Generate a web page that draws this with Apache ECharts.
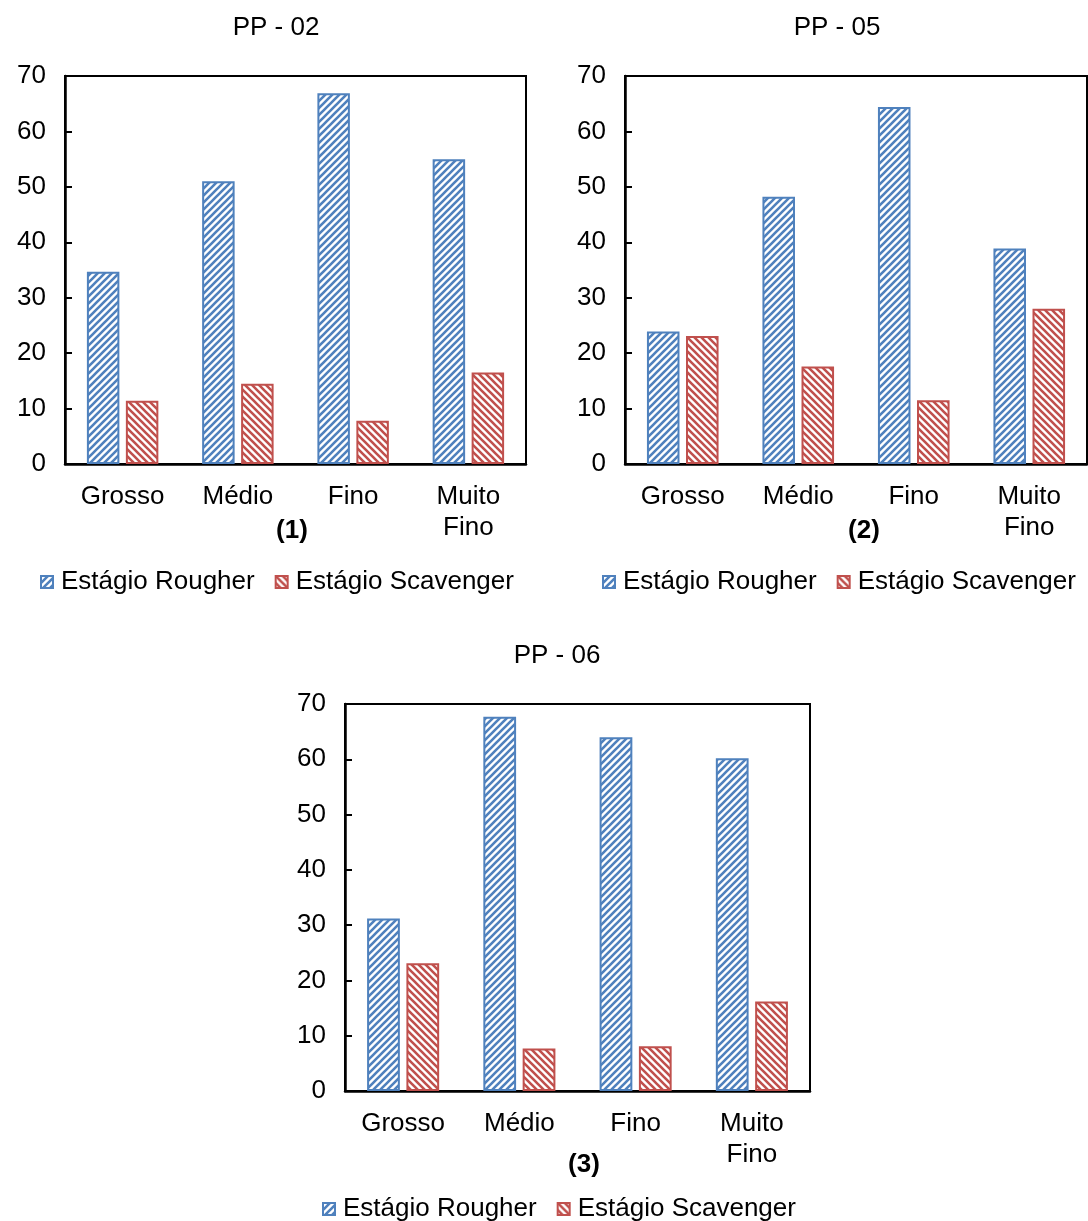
<!DOCTYPE html>
<html>
<head>
<meta charset="utf-8">
<script src="https://cdn.jsdelivr.net/npm/echarts@6/dist/echarts.min.js"></script>
<style>
  html, body { margin: 0; padding: 0; background: #fff; }
  #chart { width: 1088px; height: 1221px; }
</style>
</head>
<body>
<div id="chart"></div>
<script>
// Size classes on the x axis
const categories = ['Grosso', 'Médio', 'Fino', 'Muito\nFino'];
const seriesNames = ['Estágio Rougher', 'Estágio Scavenger'];
const panelTitles = ['PP - 02', 'PP - 05', 'PP - 06'];
const panelTags = ['(1)', '(2)', '(3)'];

// Value axis range (tick labels 0..70 every 10)
const yMin = 0;
const yMax = 70;
const yStep = 10;

// PP - 02
const pp02Rougher = [34.7, 51.0, 66.9, 55.0];
const pp02Scavenger = [11.4, 14.5, 7.8, 16.5];
// PP - 05
const pp05Rougher = [23.9, 48.2, 64.4, 38.9];
const pp05Scavenger = [23.1, 17.6, 11.5, 28.0];
// PP - 06
const pp06Rougher = [31.2, 67.7, 64.0, 60.2];
const pp06Scavenger = [23.1, 7.7, 8.1, 16.2];

const panelData = [
  [pp02Rougher, pp02Scavenger],
  [pp05Rougher, pp05Scavenger],
  [pp06Rougher, pp06Scavenger]
];

const FONT = 'Liberation Sans, Arial, sans-serif';
const FS = 26;
const BLUE = '#4F81BD';
const RED = '#C0504D';

// Diagonal hatch fill: dir > 0 draws '/', dir < 0 draws '\'
function hatch(color, dir) {
  const s = 7;
  const c = document.createElement('canvas');
  c.width = s; c.height = s;
  const g = c.getContext('2d');
  g.fillStyle = '#fff';
  g.fillRect(0, 0, s, s);
  g.strokeStyle = color;
  g.lineWidth = 2.6;
  g.beginPath();
  if (dir > 0) {
    g.moveTo(-2, 2); g.lineTo(2, -2);
    g.moveTo(-1, s + 1); g.lineTo(s + 1, -1);
    g.moveTo(s - 2, s + 2); g.lineTo(s + 2, s - 2);
  } else {
    g.moveTo(-2, s - 2); g.lineTo(2, s + 2);
    g.moveTo(-1, -1); g.lineTo(s + 1, s + 1);
    g.moveTo(s - 2, -2); g.lineTo(s + 2, 2);
  }
  g.stroke();
  return { image: c, repeat: 'repeat' };
}

const styles = [
  { color: hatch(BLUE, 1), borderColor: BLUE, borderWidth: 2 },
  { color: hatch(RED, -1), borderColor: RED, borderWidth: 2 }
];

// Panel layout: plot rectangles, legend anchors, title and tag centers
const panels = [
  { grid: { left: 65, top: 76, width: 461, height: 388 }, legend: { left: 40, top: 569 }, title: [276, 28], tag: [292, 531] },
  { grid: { left: 625, top: 76, width: 462, height: 388 }, legend: { left: 602, top: 569 }, title: [837, 28], tag: [864, 531] },
  { grid: { left: 345, top: 704, width: 465, height: 387 }, legend: { left: 322, top: 1196 }, title: [557, 656], tag: [584, 1165] }
];

const grid = [], xAxis = [], yAxis = [], series = [], legend = [], graphic = [];

panels.forEach((p, i) => {
  grid.push(Object.assign({ show: true, borderColor: '#000', borderWidth: 2, backgroundColor: 'transparent' }, p.grid));
  xAxis.push({
    type: 'category', gridIndex: i, data: categories,
    axisLine: { lineStyle: { color: '#000', width: 2.5 } },
    axisTick: { inside: true, length: 7, lineStyle: { color: '#000', width: 2 } },
    axisLabel: { color: '#000', fontFamily: FONT, fontSize: FS, lineHeight: 31, margin: 17 },
    splitLine: { show: false }
  });
  yAxis.push({
    type: 'value', gridIndex: i, min: yMin, max: yMax, interval: yStep,
    axisLine: { show: true, lineStyle: { color: '#000', width: 2.5 } },
    axisTick: { show: true, inside: true, length: 7, lineStyle: { color: '#000', width: 2 } },
    axisLabel: { color: '#000', fontFamily: FONT, fontSize: FS, margin: 19 },
    splitLine: { show: false }
  });
  panelData[i].forEach((vals, k) => {
    series.push({
      type: 'bar', name: seriesNames[k], xAxisIndex: i, yAxisIndex: i,
      data: vals, barCategoryGap: '38%', barGap: '20%',
      itemStyle: styles[k], emphasis: { disabled: true }, animation: false
    });
  });
  legend.push({
    left: p.legend.left, top: p.legend.top, orient: 'horizontal', padding: 0,
    icon: 'rect', itemWidth: 12, itemHeight: 12, itemGap: 20,
    textStyle: { color: '#000', fontFamily: FONT, fontSize: FS, padding: [0, 0, 0, 3] },
    data: seriesNames.map((n, k) => ({ name: n, itemStyle: styles[k] })),
    selectedMode: false
  });
  graphic.push({
    type: 'text', x: p.title[0], y: p.title[1],
    style: { text: panelTitles[i], fill: '#000', font: FS + 'px ' + FONT, textAlign: 'center', textVerticalAlign: 'middle' }
  });
  graphic.push({
    type: 'text', x: p.tag[0], y: p.tag[1],
    style: { text: panelTags[i], fill: '#000', font: 'bold ' + FS + 'px ' + FONT, textAlign: 'center', textVerticalAlign: 'middle' }
  });
});

const chart = echarts.init(document.getElementById('chart'), null, { renderer: 'canvas' });
chart.setOption({
  backgroundColor: '#fff',
  animation: false,
  grid, xAxis, yAxis, series, legend, graphic
});
</script>
</body>
</html>
